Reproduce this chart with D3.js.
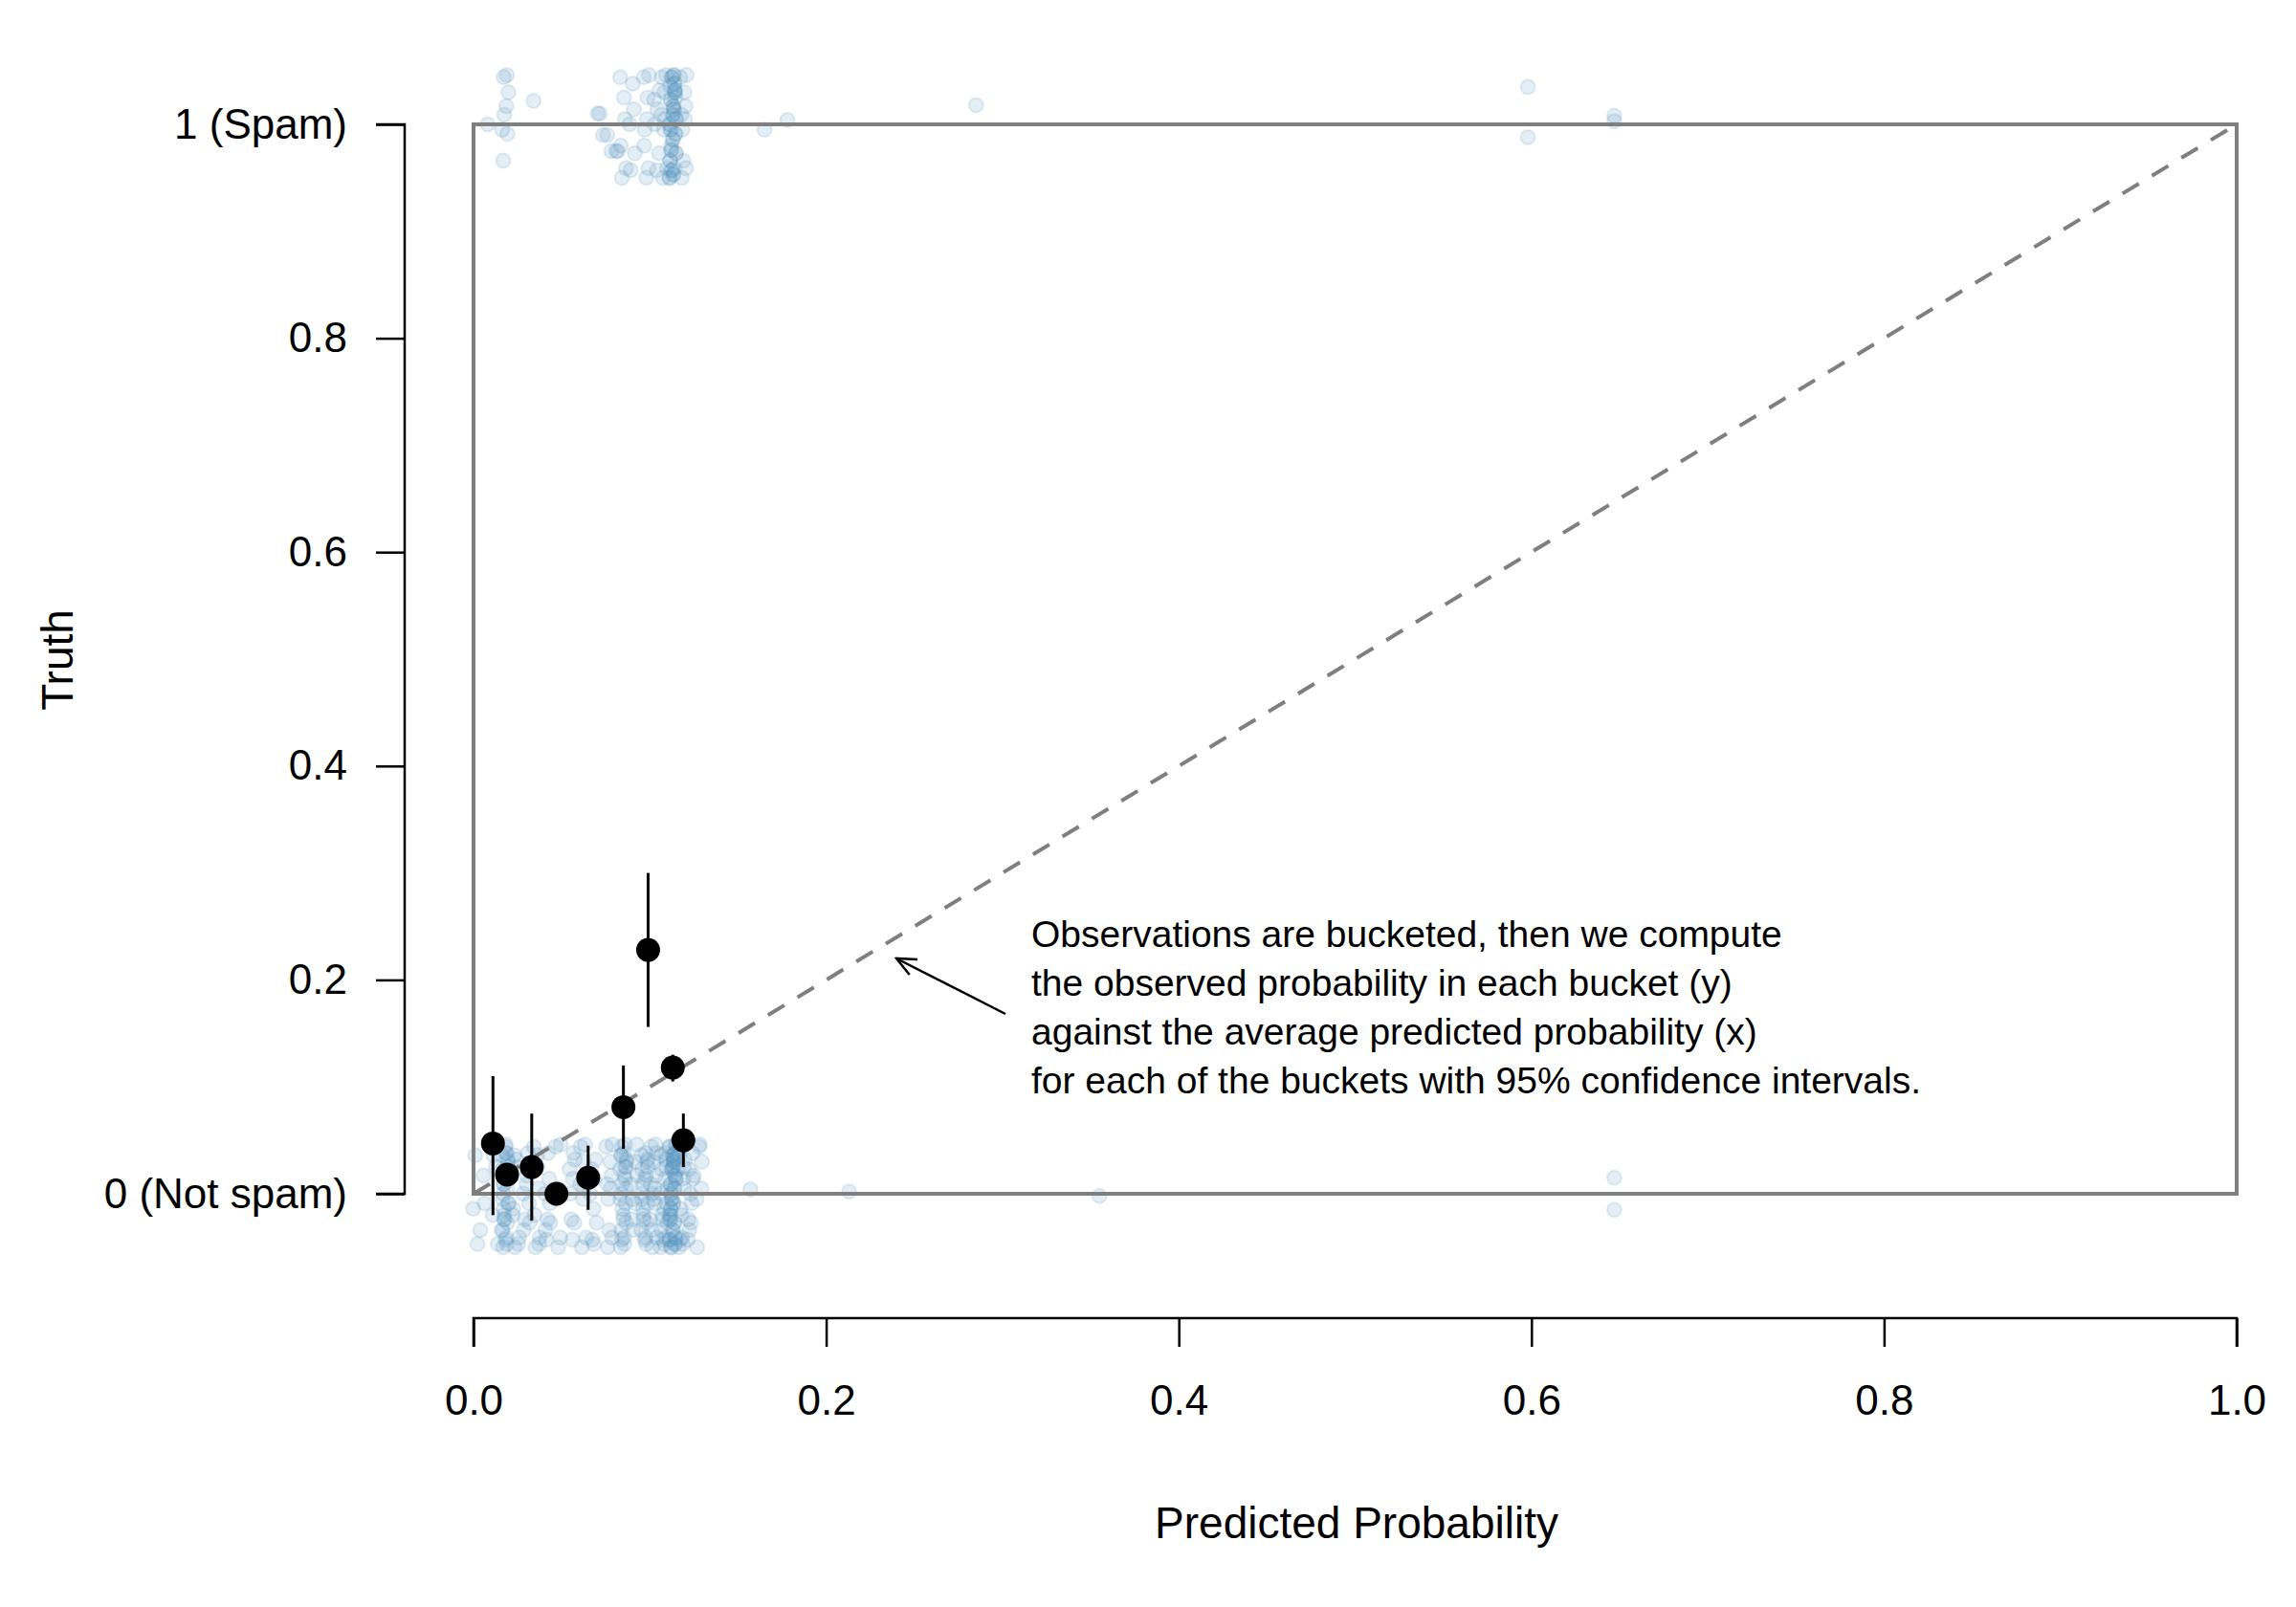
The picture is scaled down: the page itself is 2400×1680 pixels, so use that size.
<!DOCTYPE html>
<html><head><meta charset="utf-8">
<script src="https://cdn.jsdelivr.net/npm/d3@7"></script>
<style>body{margin:0;background:#fff}text{font-family:"Liberation Sans",Arial,sans-serif}</style>
</head><body><svg id="c" width="2400" height="1680"></svg>
<script>
// bucket summaries
const bucketX  = [0.011,0.019,0.033,0.047,0.065,0.085,0.099,0.113,0.119];
const bucketY  = [0.047,0.018,0.025,0.000,0.015,0.081,0.228,0.118,0.050];
const bucketLo = [-0.020,0.018,-0.025,0.000,-0.015,0.042,0.156,0.105,0.025];
const bucketHi = [0.110,0.018,0.075,0.000,0.045,0.120,0.300,0.130,0.075];
// jittered observation clusters: centre x, count
const notSpamX = [0.001,0.005,0.012,0.018,0.024,0.030,0.036,0.042,0.048,0.056,0.062,0.068,0.077,0.085,0.091,0.097,0.102,0.108,0.113,0.118,0.123,0.128,0.157,0.213,0.355,0.647,0.647];
const notSpamN = [3,3,4,30,8,8,8,8,6,8,8,8,10,26,8,20,14,18,48,14,10,6,1,1,1,1,1];
const notSpamFixedY = [null,null,null,null,null,null,null,null,null,null,null,null,null,null,null,null,null,null,null,null,null,null,0.004,0.002,-0.002,0.015,-0.015];
const spamX = [0.008,0.018,0.034,0.071,0.074,0.080,0.085,0.090,0.098,0.104,0.108,0.113,0.119,0.165,0.178,0.285,0.598,0.598,0.647,0.647];
const spamN = [1,8,1,2,2,3,6,5,8,6,8,44,10,1,1,1,1,1,1,1];
const spamFixedY = [0.0,null,0.022,0.01,-0.01,-0.025,null,null,null,null,null,null,null,-0.005,0.004,0.018,0.035,-0.012,0.008,0.003];
// hand-read scatter offsets
const jitterY = [0.036,-0.027,0.009,-0.041,0.023,-0.009,0.044,-0.047,0.000,0.030,-0.020,0.014,-0.034,0.005,-0.014,0.038,-0.005,0.025,-0.043,0.017,-0.050,0.032,-0.024,0.046];
const jitterX = [0.000,0.0012,-0.0012,0.0006,-0.0006,0.0018,-0.0018,0.0009,-0.0009,0.0015,-0.0015,0.0003];
const xTicks = [0,0.2,0.4,0.6,0.8,1.0];
const yTicks = [0,0.2,0.4,0.6,0.8,1.0];
const yTickLabels = ["0 (Not spam)","0.2","0.4","0.6","0.8","1 (Spam)"];
const note = ["Observations are bucketed, then we compute","the observed probability in each bucket (y)","against the average predicted probability (x)","for each of the buckets with 95% confidence intervals."];

const svg = d3.select("#c");
const x = d3.scaleLinear().domain([0,1]).range([495,2338]);
const y = d3.scaleLinear().domain([0,1]).range([1248,130]);

function expand(xs,ns,fixed,base){const out=[];xs.forEach((cx,i)=>{for(let k=0;k<ns[i];k++){const jy=fixed[i]!==null?fixed[i]:jitterY[(k*7+i*5)%jitterY.length];const jx=ns[i]>1?jitterX[(k+i)%jitterX.length]:0;out.push([cx+jx,base+jy]);}});return out;}
const pts = expand(notSpamX,notSpamN,notSpamFixedY,0).concat(expand(spamX,spamN,spamFixedY,1));
svg.append("g").selectAll("circle").data(pts).join("circle")
  .attr("cx",d=>x(d[0])).attr("cy",d=>y(d[1])).attr("r",7.5)
  .attr("fill","rgba(86,150,194,0.16)").attr("stroke","rgba(86,150,194,0.16)").attr("stroke-width",2);

svg.append("rect").attr("x",x(0)).attr("y",y(1)).attr("width",x(1)-x(0)).attr("height",y(0)-y(1))
  .attr("fill","none").attr("stroke","#7f7f7f").attr("stroke-width",4);
svg.append("line").attr("x1",x(0)).attr("y1",y(0)).attr("x2",x(1)).attr("y2",y(1))
  .attr("stroke","#7f7f7f").attr("stroke-width",4).attr("stroke-dasharray","20,16");

svg.append("g").selectAll("line").data(bucketX).join("line")
  .attr("x1",d=>x(d)).attr("x2",d=>x(d)).attr("y1",(d,i)=>y(bucketLo[i])).attr("y2",(d,i)=>y(bucketHi[i]))
  .attr("stroke","#000").attr("stroke-width",3);
svg.append("g").selectAll("circle").data(bucketX).join("circle")
  .attr("cx",d=>x(d)).attr("cy",(d,i)=>y(bucketY[i])).attr("r",12.5).attr("fill","#000");

const yAx = svg.append("g").attr("transform","translate(423,0)")
  .call(d3.axisLeft(y).tickValues(yTicks).tickFormat((d,i)=>yTickLabels[i]).tickSize(30).tickPadding(30));
const xAx = svg.append("g").attr("transform","translate(0,1378)")
  .call(d3.axisBottom(x).tickValues(xTicks).tickFormat(d3.format(".1f")).tickSize(30).tickPadding(40));
[yAx,xAx].forEach(g=>{g.select(".domain").attr("stroke","#000").attr("stroke-width",2.5);
  g.selectAll(".tick line").attr("stroke","#000").attr("stroke-width",2.5);
  g.selectAll(".tick text").attr("font-size",44).attr("fill","#000").style("font-family","'Liberation Sans',Arial,sans-serif");});
yAx.select(".domain").attr("d",`M-30,${y(0)}H0V${y(1)}H-30`);
xAx.select(".domain").attr("d",`M${x(0)},30V0H${x(1)}V30`);

svg.append("text").attr("x",1418).attr("y",1608).attr("text-anchor","middle").attr("font-size",46).text("Predicted Probability");
svg.append("text").attr("transform","translate(76,690) rotate(-90)").attr("text-anchor","middle").attr("font-size",46).text("Truth");

svg.append("g").selectAll("text").data(note).join("text")
  .attr("x",1078).attr("y",(d,i)=>990+i*51).attr("font-size",39).text(d=>d);
svg.append("defs").append("marker").attr("id","ah").attr("viewBox","0 0 24 24").attr("refX",22).attr("refY",12)
  .attr("markerWidth",24).attr("markerHeight",24).attr("markerUnits","userSpaceOnUse").attr("orient","auto")
  .append("path").attr("d","M2,3L22,12L2,21").attr("fill","none").attr("stroke","#000").attr("stroke-width",2.5);
svg.append("line").attr("x1",1051).attr("y1",1060).attr("x2",937).attr("y2",1002)
  .attr("stroke","#000").attr("stroke-width",2.5).attr("marker-end","url(#ah)");
</script></body></html>
